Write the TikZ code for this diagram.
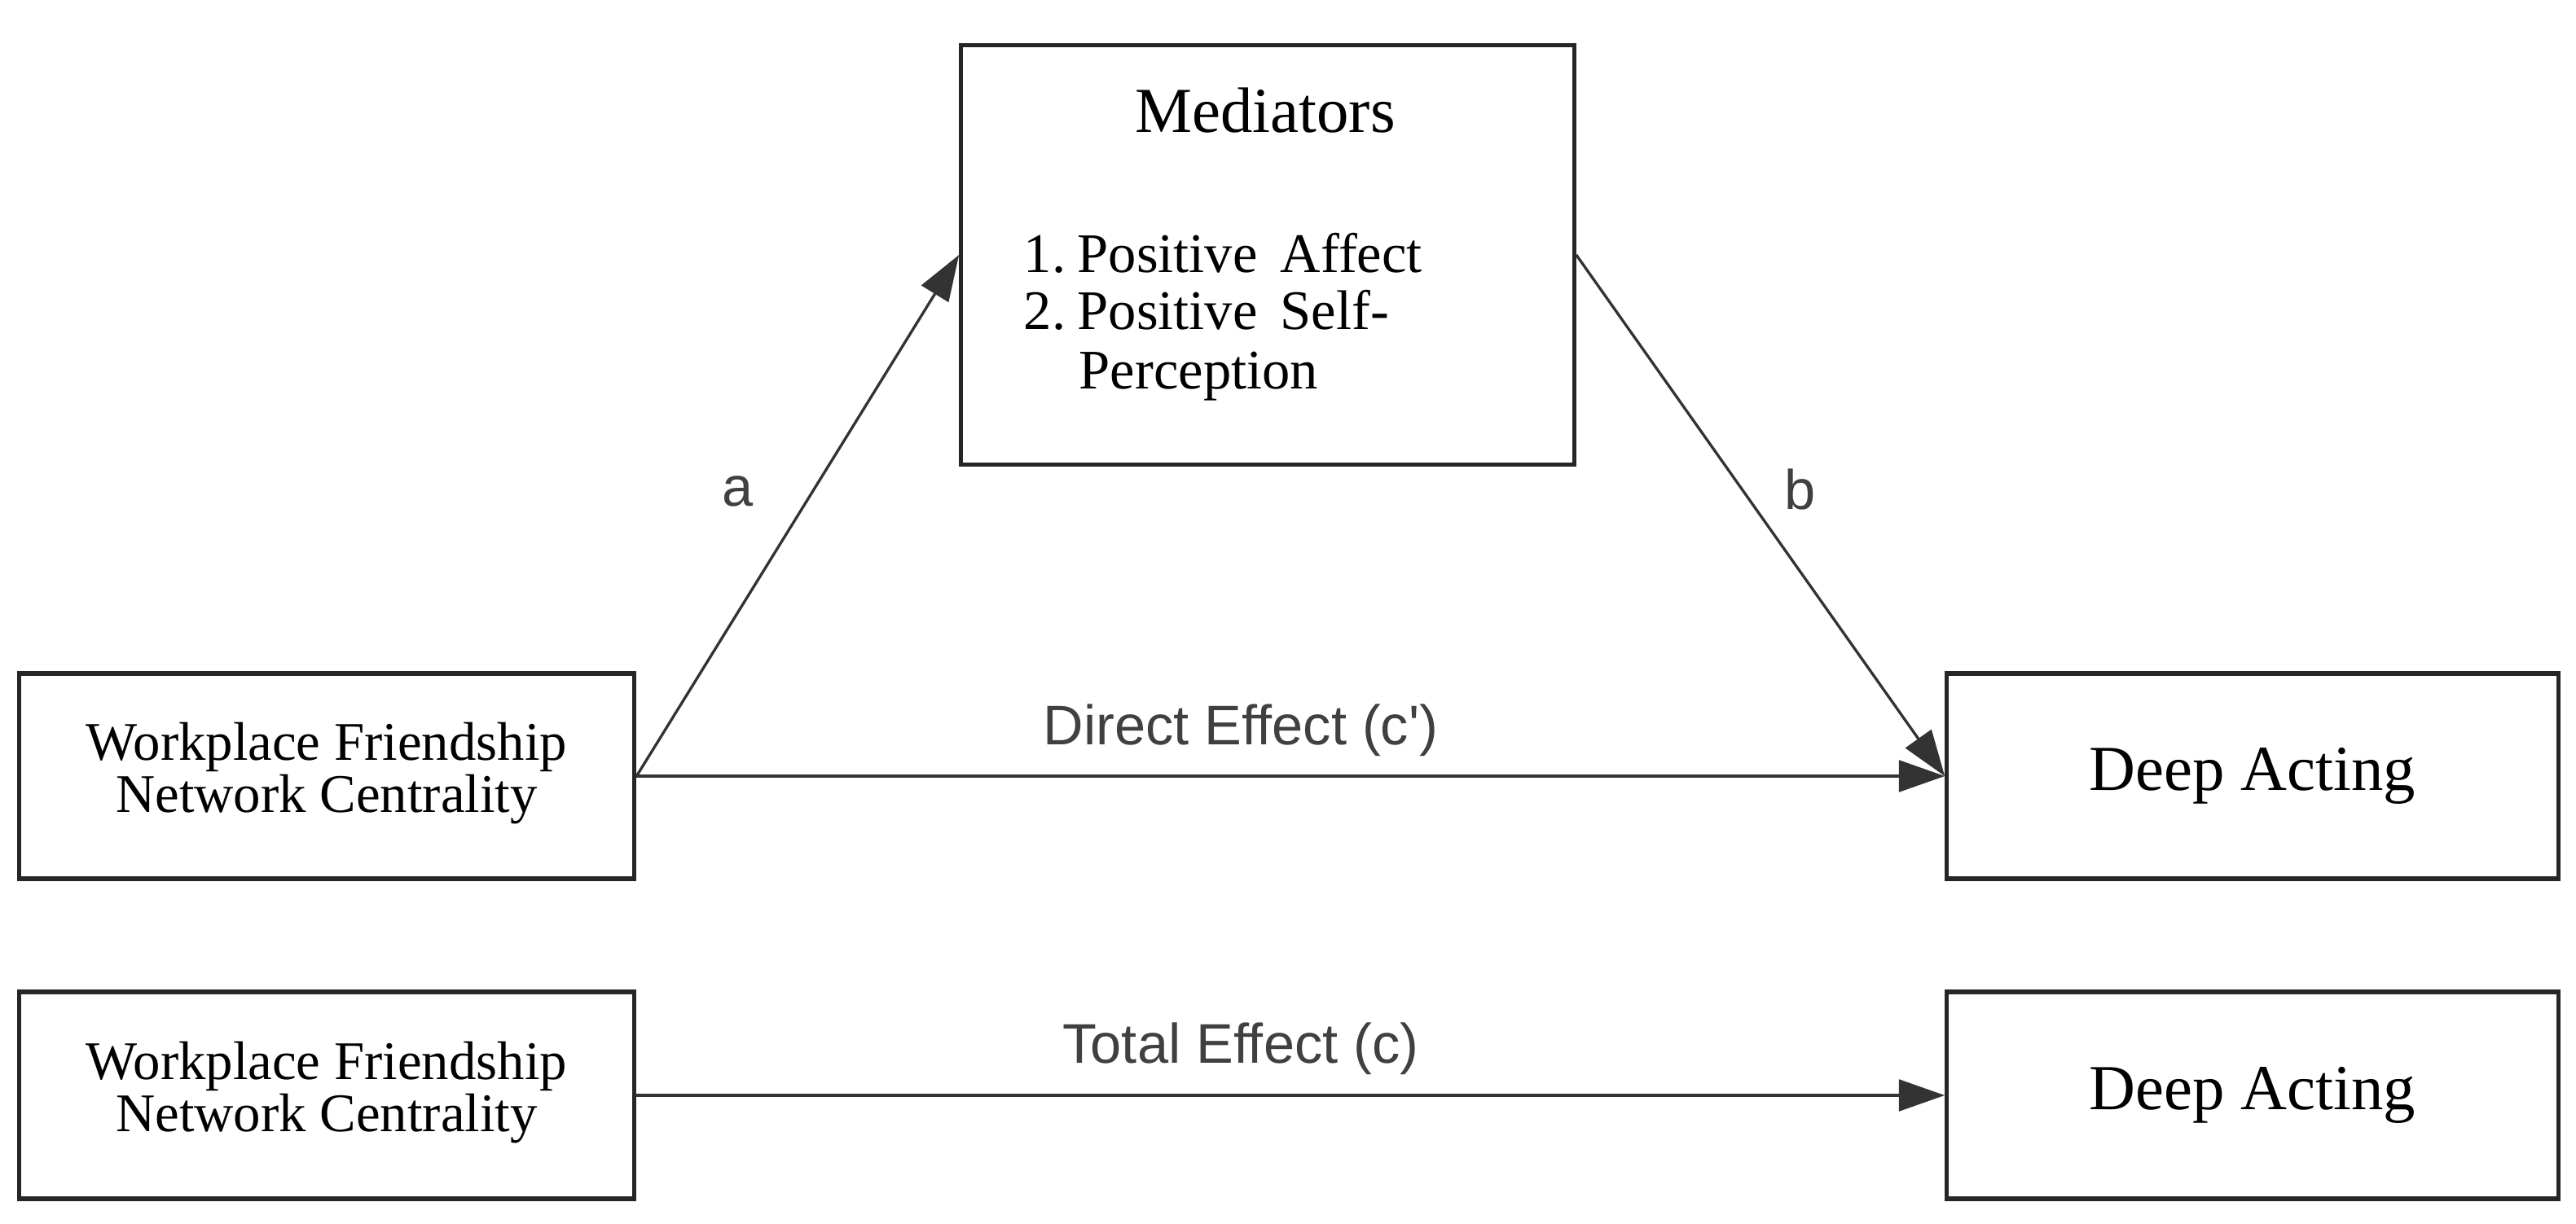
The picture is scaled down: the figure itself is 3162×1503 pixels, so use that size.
\documentclass[tikz,border=0pt]{standalone}
\usepackage{fontspec}
\setmainfont{Liberation Serif}
\newfontfamily\lblfont{Liberation Sans}
\usetikzlibrary{arrows.meta}
\begin{document}
\begin{tikzpicture}[x=0.01cm,y=-0.01cm,
  box/.style={draw=black!85, line width=1.5pt, inner sep=0pt, align=center, fill=white},
  conn/.style={draw=black!80, line width=0.95pt, -{Triangle[length=16pt,width=11pt]}},
  lbl/.style={font=\lblfont\fontsize{19.5}{22}\selectfont, text=black!75, inner sep=0pt},
  varfont/.style={font=\fontsize{19}{18.2}\selectfont},
  bigfont/.style={font=\fontsize{22.4}{26}\selectfont},
  listfont/.style={font=\fontsize{19.5}{20}\selectfont, inner sep=0pt}]
\useasboundingbox (0,0) rectangle (3162,1503);

% boxes
\node[box, varfont, minimum width=7.55cm, minimum height=2.52cm] (wf1) at (401,953)
  {Workplace Friendship\\Network Centrality\rule[-6pt]{0pt}{6pt}};
\node[box, bigfont, minimum width=7.50cm, minimum height=2.52cm] (da1) at (2765,953)
  {Deep Acting};
\node[box, varfont, minimum width=7.55cm, minimum height=2.54cm] (wf2) at (401,1345)
  {Workplace Friendship\\Network Centrality\rule[-6pt]{0pt}{6pt}};
\node[box, bigfont, minimum width=7.50cm, minimum height=2.54cm] (da2) at (2765,1345)
  {Deep Acting};
\node[box, minimum width=7.52cm, minimum height=5.15cm] (med) at (1556,313) {};

% mediator texts
\node[bigfont, inner sep=0pt, anchor=base] (medt) at (1553,163) {Mediators};
\node[listfont, anchor=base west] (n1) at (1256,334) {1.};
\node[listfont, anchor=base west] (m1) at (1322,334) {Positive\hskip 8pt Affect};
\node[listfont, anchor=base west] (n2) at (1256,404) {2.};
\node[listfont, anchor=base west] (m2) at (1322,404) {Positive\hskip 8pt Self-};
\node[listfont, anchor=base west] (m3) at (1324,478) {Perception};

% connectors
\draw[conn] (wf1.east) -- (med.west);
\draw[conn] (med.east) -- (da1.west);
\draw[conn] (wf1.east) -- (da1.west);
\draw[conn] (wf2.east) -- (da2.west);

% labels
\node[lbl] (la) at (906,603) {a};
\node[lbl] (lb) at (2210,601) {b};
\node[lbl, anchor=base] (ld) at (1523,914) {Direct Effect (c')};
\node[lbl, anchor=base] (lt) at (1523,1305) {Total Effect (c)};
\end{tikzpicture}
\end{document}
